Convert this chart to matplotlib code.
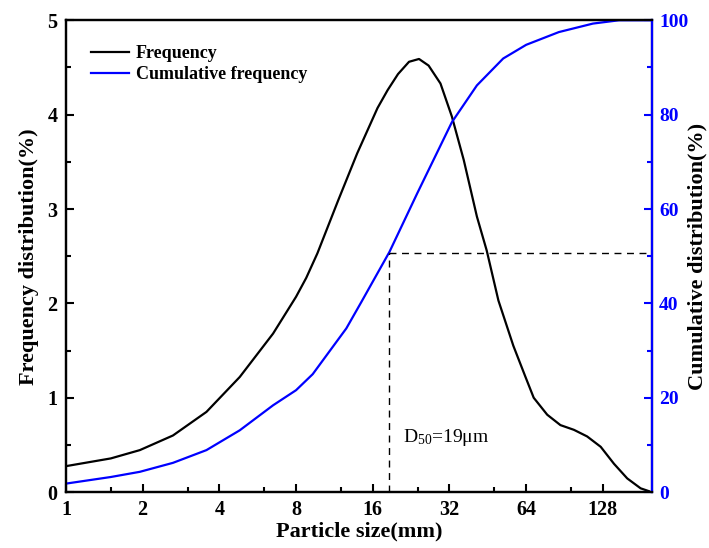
import numpy as np
import matplotlib
matplotlib.use("Agg")
import matplotlib.pyplot as plt
from matplotlib.ticker import FixedLocator, NullFormatter

# === DATA ===
freq_size = [1, 1.5, 1.95, 2.63, 3.56, 4.81, 6.5, 8, 8.77, 9.7, 11.7, 13.9,
             16.7, 18.3, 20.1, 22.2, 24.3, 26.5, 29.5, 32.7, 36.4, 41, 44.8,
             49.8, 57, 63.6, 68.5, 77.4, 87.2, 98.5, 111, 125.5, 141.5, 159.5,
             180, 194]
freq_val = [0.275, 0.357, 0.445, 0.60, 0.85, 1.22, 1.68, 2.07, 2.27, 2.53,
            3.09, 3.59, 4.07, 4.26, 4.43, 4.56, 4.59, 4.52, 4.33, 3.98, 3.52,
            2.92, 2.56, 2.03, 1.55, 1.22, 1.0, 0.82, 0.71, 0.66, 0.59, 0.48,
            0.30, 0.145, 0.04, 0.01]

cum_size = [1, 1.5, 1.95, 2.63, 3.56, 4.81, 6.5, 8, 9.3, 12.6, 14.4, 18.6,
            23.9, 32.7, 41, 52, 64, 86, 117, 148, 200]
cum_val = [1.8, 3.2, 4.3, 6.2, 8.9, 13.1, 18.4, 21.6, 25.0, 34.7, 40.2, 50.9,
           63.3, 78.4, 86.2, 91.9, 94.8, 97.5, 99.3, 100.0, 100.0]

x_ticks = [1, 2, 4, 8, 16, 32, 64, 128]
x_minor = [1.5, 3, 6, 12, 24, 48, 96]
d50_size = 18.5
d50_cum = 50.7

# === STYLE ===
plt.rcParams["font.family"] = ["Liberation Serif", "DejaVu Serif"]
plt.rcParams["mathtext.fontset"] = "custom"
plt.rcParams["mathtext.rm"] = "Liberation Serif"

fig = plt.figure(figsize=(7.09, 5.48), dpi=100)
ax = fig.add_axes([0.093, 0.102, 0.827, 0.861])
ax2 = ax.twinx()

l1, = ax.plot(freq_size, freq_val, color="black", lw=1.6, label="Frequency")
l2, = ax2.plot(cum_size, cum_val, color="blue", lw=1.6, label="Cumulative frequency")

# D50 guide lines
ax2.plot([d50_size, d50_size], [0, d50_cum], color="black", lw=1.0, ls=(0, (5, 4)))
ax2.plot([d50_size, 200], [d50_cum, d50_cum], color="black", lw=1.0, ls=(0, (5, 4)))
ax.text(21.0, 0.58, r"$\mathregular{D_{50}}$=19μm", fontsize=14,
        ha="left", va="center")

ax.set_xscale("log", base=2)
ax.set_xlim(1, 200)
ax.set_ylim(0, 5)
ax2.set_ylim(0, 100)

ax.xaxis.set_major_locator(FixedLocator(x_ticks))
ax.set_xticklabels([str(t) for t in x_ticks])
ax.xaxis.set_minor_locator(FixedLocator(x_minor))
ax.xaxis.set_minor_formatter(NullFormatter())
ax.set_yticks(np.arange(0, 6, 1))
ax.set_yticks(np.arange(0.5, 5, 1), minor=True)
ax2.set_yticks(np.arange(0, 120, 20))
ax2.set_yticks(np.arange(10, 100, 20), minor=True)

for a in (ax, ax2):
    for s in a.spines.values():
        s.set_linewidth(1.6)
ax2.spines["right"].set_color("blue")

ax.tick_params(axis="both", which="major", direction="in", length=6, width=1.5,
               labelsize=14.5, pad=6)
ax.tick_params(axis="both", which="minor", direction="in", length=3.5, width=1.5)
ax.tick_params(axis="x", top=False, which="both")
ax2.tick_params(axis="y", which="major", direction="in", length=6, width=1.5,
                labelsize=14, colors="blue", pad=5)
ax2.tick_params(axis="y", which="minor", direction="in", length=3.5, width=1.5,
                colors="blue")

for lab in ax.get_xticklabels() + ax.get_yticklabels() + ax2.get_yticklabels():
    lab.set_fontweight("bold")

ax.set_xlabel("Particle size(mm)", fontsize=16, fontweight="bold", labelpad=1)
ax.set_ylabel("Frequency distribution(%)", fontsize=16, fontweight="bold", labelpad=6)
ax2.set_ylabel("Cumulative distribution(%)", fontsize=16, fontweight="bold",
               labelpad=-1, color="black")

ax.legend(handles=[l1, l2], loc="upper left", bbox_to_anchor=(0.03, 0.963),
          frameon=False, prop={"weight": "bold", "size": 13},
          handlelength=2.1, labelspacing=0.25, borderaxespad=0, handletextpad=0.4)

fig.savefig("out.png", dpi=100)
